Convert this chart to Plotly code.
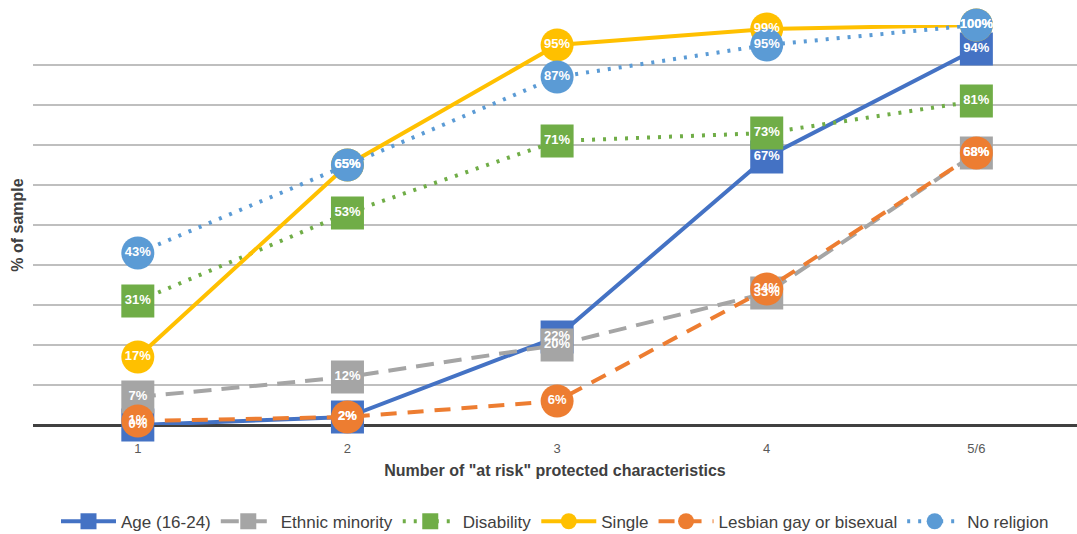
import plotly.graph_objects as go

categories = ["1", "2", "3", "4", "5/6"]

age_16_24 = [0, 2, 22, 67, 94]
ethnic_minority = [7, 12, 20, 33, 68]
disability = [31, 53, 71, 73, 81]
single = [17, 65, 95, 99, 100]
lgb = [1, 2, 6, 34, 68]
no_religion = [43, 65, 87, 95, 100]

series = [
    ("Age (16-24)", age_16_24, "#4472C4", "solid", "square"),
    ("Ethnic minority", ethnic_minority, "#A5A5A5", "18px,10px", "square"),
    ("Disability", disability, "#70AD47", "3px,8px", "square"),
    ("Single", single, "#FFC000", "solid", "circle"),
    ("Lesbian gay or bisexual", lgb, "#ED7D31", "16px,11px", "circle"),
    ("No religion", no_religion, "#5B9BD5", "3px,8px", "circle"),
]

fig = go.Figure()

# Lines and markers for every series
for name, vals, color, dash, symbol in series:
    fig.add_trace(go.Scatter(
        x=categories,
        y=vals,
        name=name,
        mode="lines+markers",
        line=dict(color=color, width=4, dash=dash),
        marker=dict(symbol=symbol, size=33, color=color),
        cliponaxis=False,
    ))

# Value labels drawn above all markers
for name, vals, color, dash, symbol in series:
    fig.add_trace(go.Scatter(
        x=categories,
        y=vals,
        mode="text",
        showlegend=False,
        hoverinfo="skip",
        text=[f"{v}%" for v in vals],
        textposition="middle center",
        textfont=dict(color="white", size=13, family="Liberation Sans", weight="bold"),
        cliponaxis=False,
    ))

fig.update_layout(
    width=1077,
    height=534,
    margin=dict(l=33, r=0, t=25, b=109),
    paper_bgcolor="white",
    plot_bgcolor="white",
    showlegend=True,
    legend=dict(
        orientation="h",
        x=0.5,
        xanchor="center",
        yref="container",
        y=0.023,
        yanchor="middle",
        itemwidth=55,
        font=dict(family="Liberation Sans", size=17, color="#404040"),
    ),
    xaxis=dict(
        type="category",
        range=[-0.5, 4.48],
        showgrid=False,
        showline=False,
        ticks="",
        ticklabelstandoff=14,
        tickfont=dict(family="Liberation Sans", size=13, color="#595959"),
        title=dict(
            text="Number of \"at risk\" protected characteristics",
            font=dict(family="Liberation Sans", size=16, color="#404040", weight="bold"),
            standoff=9,
        ),
    ),
    yaxis=dict(
        range=[0, 100],
        dtick=10,
        showticklabels=False,
        showgrid=True,
        gridcolor="#BFBFBF",
        gridwidth=1.5,
        zeroline=True,
        zerolinecolor="#404040",
        zerolinewidth=2.5,
        title=dict(
            text="% of sample",
            font=dict(family="Liberation Sans", size=16, color="#404040", weight="bold"),
            standoff=4,
        ),
    ),
)

fig.write_html("out.html")
